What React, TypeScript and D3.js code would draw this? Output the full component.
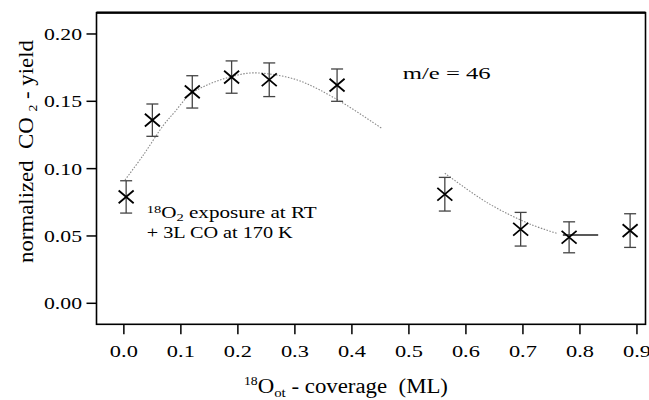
import * as d3 from 'd3';

// measured points
const coverage = [0.004, 0.05, 0.12, 0.189, 0.255, 0.374, 0.563, 0.696, 0.781, 0.888];
const yieldVals = [0.079, 0.136, 0.157, 0.168, 0.166, 0.162, 0.081, 0.055, 0.049, 0.054];
const yieldErr = [0.012, 0.012, 0.012, 0.012, 0.0125, 0.012, 0.0125, 0.0125, 0.0115, 0.0125];

// fitted guide curves
const fitLowX = [0.002, 0.034, 0.069, 0.089, 0.116, 0.151, 0.186, 0.221, 0.26, 0.303, 0.341, 0.391, 0.452];
const fitLowY = [0.0916, 0.11, 0.132, 0.142, 0.155, 0.163, 0.168, 0.171, 0.17, 0.166, 0.159, 0.147, 0.13];
const fitHighX = [0.563, 0.639, 0.712, 0.759];
const fitHighY = [0.0966, 0.0743, 0.0589, 0.052];
const plateauX = [0.77, 0.832];
const plateauY = [0.0507, 0.0507];

const xTicks = [0, 0.1, 0.2, 0.3, 0.4, 0.5, 0.6, 0.7, 0.8, 0.9];
const yTicks = [0, 0.05, 0.1, 0.15, 0.2];

const W = 649;
const H = 400;
const box = { left: 96.5, right: 645.5, top: 12.7, bottom: 324.3 };
const font = '"Liberation Serif", "Times New Roman", serif';

export default function App() {
  const x = d3.scaleLinear().domain([-0.048, 0.915]).range([box.left, box.right]);
  const y = d3.scaleLinear().domain([-0.0156, 0.2158]).range([box.bottom, box.top]);

  const curve = (xs: number[], ys: number[]) =>
    d3.line<number>()
      .x(i => x(xs[i]))
      .y(i => y(ys[i]))
      .curve(d3.curveCatmullRom)(d3.range(xs.length)) as string;

  const cross = 7.5;
  const cap = 6;

  return (
    <svg width={W} height={H} style={{ position: 'absolute', left: 0, top: 0, background: '#fff' }}
      fontFamily={font}>
      {/* frame */}
      <rect x={box.left} y={box.top} width={box.right - box.left} height={box.bottom - box.top}
        fill="none" stroke="#000" strokeWidth={1.6} />
      <line x1={box.left} x2={box.right} y1={box.top} y2={box.top} stroke="#000" strokeWidth={2.2} />

      {/* y axis */}
      {yTicks.map(t => (
        <g key={t}>
          <line x1={box.left - 10} x2={box.left} y1={y(t)} y2={y(t)} stroke="#000" strokeWidth={1.5} />
          <text x={82} y={y(t) + 6} textAnchor="end" fontSize={17}
            textLength={38} lengthAdjust="spacingAndGlyphs">{d3.format('.2f')(t)}</text>
        </g>
      ))}

      {/* x axis */}
      {xTicks.map(t => (
        <g key={t}>
          <line x1={x(t)} x2={x(t)} y1={box.bottom} y2={box.bottom + 10} stroke="#000" strokeWidth={1.5} />
          <text x={x(t) - 14} y={356.7} fontSize={17}
            textLength={28} lengthAdjust="spacingAndGlyphs">{d3.format('.1f')(t)}</text>
        </g>
      ))}

      {/* fit curves */}
      <path d={curve(fitLowX, fitLowY)} fill="none" stroke="#888" strokeWidth={1.1} strokeDasharray="1.5 1.5" />
      <path d={curve(fitHighX, fitHighY)} fill="none" stroke="#888" strokeWidth={1.1} strokeDasharray="1.5 1.5" />
      <path d={curve(plateauX, plateauY)} fill="none" stroke="#222" strokeWidth={1.4} />

      {/* error bars + markers */}
      {coverage.map((c, i) => {
        const cx = x(c);
        const cy = y(yieldVals[i]);
        const hi = y(yieldVals[i] + yieldErr[i]);
        const lo = y(yieldVals[i] - yieldErr[i]);
        return (
          <g key={i}>
            <line x1={cx} x2={cx} y1={hi} y2={lo} stroke="#444" strokeWidth={1.3} />
            <line x1={cx - cap} x2={cx + cap} y1={hi} y2={hi} stroke="#444" strokeWidth={1.3} />
            <line x1={cx - cap} x2={cx + cap} y1={lo} y2={lo} stroke="#444" strokeWidth={1.3} />
            <path d={`M${cx - cross},${cy - cross * 0.85}L${cx + cross},${cy + cross * 0.85}M${cx - cross},${cy + cross * 0.85}L${cx + cross},${cy - cross * 0.85}`}
              stroke="#000" strokeWidth={1.8} />
          </g>
        );
      })}

      {/* annotations */}
      <text x={402.7} y={79.3} fontSize={17} textLength={88} lengthAdjust="spacingAndGlyphs">m/e = 46</text>
      <text x={146.7} y={218.3} fontSize={16} textLength={170} lengthAdjust="spacingAndGlyphs">
        <tspan fontSize={11} dy={-5}>18</tspan>
        <tspan dy={5}>O</tspan>
        <tspan fontSize={11} dy={3}>2</tspan>
        <tspan dy={-3}>{'\u00a0exposure at RT'}</tspan>
      </text>
      <text x={146.7} y={238.3} fontSize={16} textLength={146} lengthAdjust="spacingAndGlyphs">+ 3L CO at 170 K</text>

      {/* axis titles */}
      <text x={244} y={393} fontSize={20} textLength={204} lengthAdjust="spacingAndGlyphs">
        <tspan fontSize={12} dy={-8}>18</tspan>
        <tspan dy={8}>O</tspan>
        <tspan fontSize={13} dy={4}>ot</tspan>
        <tspan dy={-4}>{'\u00a0- coverage\u00a0\u00a0(ML)'}</tspan>
      </text>
      <text transform="translate(33,151.5) rotate(-90)" textAnchor="middle" fontSize={20}
        textLength={223} lengthAdjust="spacingAndGlyphs">
        {'normalized\u00a0\u00a0CO\u00a0'}
        <tspan fontSize={12} dy={4}>2</tspan>
        <tspan dy={-4}>{'\u00a0- yield'}</tspan>
      </text>
    </svg>
  );
}
